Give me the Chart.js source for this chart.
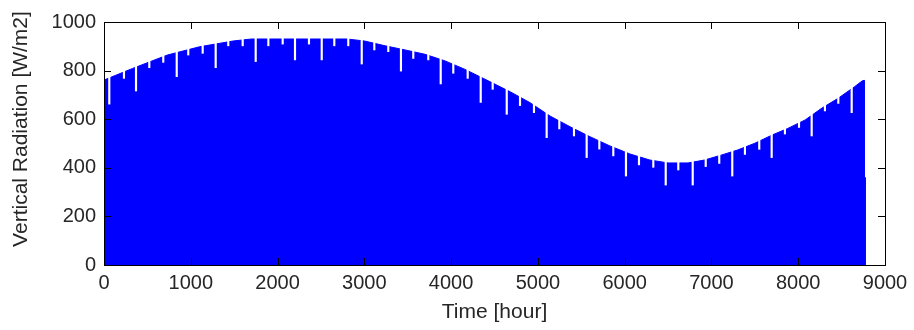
<!DOCTYPE html>
<html>
<head>
<meta charset="utf-8">
<script src="https://cdn.jsdelivr.net/npm/chart.js@4/dist/chart.umd.min.js"></script>
<style>
  body { margin: 0; background: #fff; }
  #wrap { width: 914px; height: 330px; }
</style>
</head>
<body>
<div id="wrap"><canvas id="radChart"></canvas></div>
<script>
// envelope of the daily peaks (hour, W/m2)
const envHours = [0, 330, 730, 1100, 1490, 1700, 2800, 3000, 3240, 3470, 3700, 3930, 4160, 4450, 4680, 4910, 5140, 5370, 5600, 5830, 6060, 6290, 6500, 6730, 6920, 7120, 7300, 7500, 7700, 7880, 8080, 8270, 8460, 8650, 8735, 8760, 8761, 8771, 8772];
const envValues = [761, 809, 864, 898, 922, 930, 930, 922, 902, 885, 867, 840, 805, 754, 713, 668, 613, 569, 528, 490, 457, 432, 420, 420, 432, 453, 473, 501, 535, 562, 597, 645, 686, 734, 757, 760, 360, 360, 0];

// low days (white dips)
const dipHours = [61, 230, 369, 522, 683, 838, 971, 1137, 1287, 1432, 1598, 1748, 1894, 2059,
  2201, 2362, 2509, 2654, 2815, 2970, 3115, 3276, 3422, 3564, 3737, 3880, 4025, 4191,
  4341, 4479, 4641, 4794, 4955, 5101, 5247, 5416, 5562, 5708, 5869, 6015, 6165, 6330,
  6473, 6618, 6784, 6934, 7090, 7240, 7386, 7551, 7694, 7847, 8009, 8155, 8308, 8462, 8616];
const dipValues = [662, 768, 716, 812, 834, 775, 864, 871, 812, 902, 902, 837, 902, 909,
  844, 909, 844, 902, 902, 827, 885, 878, 798, 850, 844, 745, 789, 768,
  669, 723, 620, 656, 627, 524, 560, 531, 442, 477, 449, 366, 412, 402,
  329, 391, 329, 405, 418, 366, 455, 476, 442, 539, 566, 531, 634, 665, 627];

const xTicks = [0, 1000, 2000, 3000, 4000, 5000, 6000, 7000, 8000, 9000];
const yTicks = [0, 200, 400, 600, 800, 1000];

const textColor = '#262626';
const fontFamily = "'Liberation Sans', Arial, sans-serif";

// cadre + petits traits vers l'interieur, facon matlab
const matlabFrame = {
  id: 'matlabFrame',
  afterDraw(chart) {
    const { ctx, chartArea: a, scales } = chart;
    ctx.save();
    ctx.strokeStyle = '#000';
    ctx.lineWidth = 1;
    ctx.strokeRect(Math.round(a.left) + 0.5, Math.round(a.top) + 0.5,
      Math.round(a.right - a.left), Math.round(a.bottom - a.top));
    ctx.beginPath();
    xTicks.slice(1, -1).forEach(v => {
      const px = Math.round(scales.x.getPixelForValue(v)) + 0.5;
      ctx.moveTo(px, a.bottom); ctx.lineTo(px, a.bottom - 7);
      ctx.moveTo(px, a.top); ctx.lineTo(px, a.top + 7);
    });
    yTicks.slice(1, -1).forEach(v => {
      const py = Math.round(scales.y.getPixelForValue(v)) + 0.5;
      ctx.moveTo(a.left, py); ctx.lineTo(a.left + 7, py);
      ctx.moveTo(a.right, py); ctx.lineTo(a.right - 7, py);
    });
    ctx.stroke();
    // titre vertical
    ctx.fillStyle = textColor;
    ctx.font = '21px ' + fontFamily;
    ctx.textAlign = 'center';
    ctx.textBaseline = 'middle';
    ctx.translate(21, 129);
    ctx.rotate(-Math.PI / 2);
    ctx.fillText('Vertical Radiation [W/m2]', 0, 0);
    ctx.restore();
  }
};

const ctx = document.getElementById('radChart').getContext('2d');

new Chart(ctx, {
  data: {
    datasets: [
      {
        type: 'bar',
        data: dipHours.map((h, i) => ({ x: h, y: [dipValues[i], yTicks[yTicks.length - 1]] })),
        backgroundColor: '#ffffff',
        barThickness: 1.5,
        grouped: false,
        order: 0
      },
      {
        type: 'line',
        data: envHours.map((h, i) => ({ x: h, y: envValues[i] })),
        borderColor: '#0000ff',
        borderWidth: 1,
        backgroundColor: '#0000ff',
        fill: 'origin',
        pointRadius: 0,
        tension: 0,
        order: 1
      }
    ]
  },
  options: {
    responsive: true,
    maintainAspectRatio: false,
    animation: false,
    layout: { padding: { top: 22, right: 29, left: 0, bottom: 0 } },
    plugins: { legend: { display: false }, tooltip: { enabled: false } },
    scales: {
      x: {
        type: 'linear',
        min: 0,
        max: 9000,
        offset: false,
        grid: { display: false, drawTicks: false, offset: false },
        border: { display: false },
        afterBuildTicks: s => { s.ticks = xTicks.map(v => ({ value: v })); },
        ticks: { color: textColor, font: { family: fontFamily, size: 20 }, padding: 6, maxRotation: 0, autoSkip: false, callback: v => String(v) },
        title: { display: true, text: 'Time [hour]', color: textColor, font: { family: fontFamily, size: 21 }, padding: { top: 0, bottom: 5 } },
        afterFit: s => { s.height = 65; }
      },
      y: {
        type: 'linear',
        min: 0,
        max: 1000,
        grid: { display: false, drawTicks: false },
        border: { display: false },
        afterBuildTicks: s => { s.ticks = yTicks.map(v => ({ value: v })); },
        ticks: { color: textColor, font: { family: fontFamily, size: 20 }, padding: 8, callback: v => String(v) },
        afterFit: s => { s.width = 104; }
      }
    }
  },
  plugins: [matlabFrame]
});
</script>
</body>
</html>
